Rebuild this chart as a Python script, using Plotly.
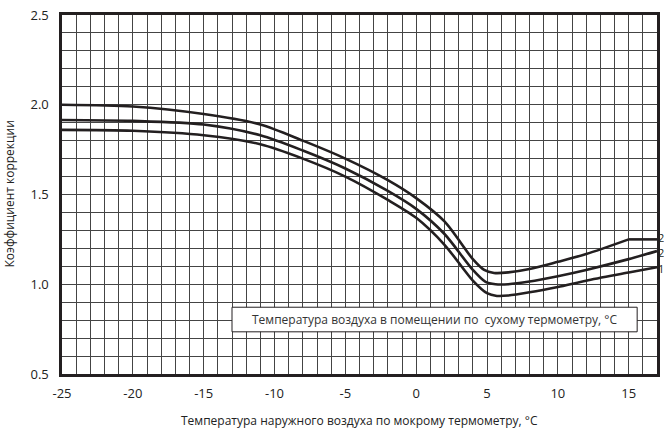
import plotly.graph_objects as go

# Data
x_top = [-25, -20, -15, -11, -8, -5, -2, 0, 2, 4, 4.8, 5.5, 6.5, 8, 10, 12, 15, 17]
y_top = [2.0, 1.99, 1.948, 1.89, 1.80, 1.70, 1.58, 1.48, 1.35, 1.14, 1.08, 1.063, 1.066, 1.085, 1.125, 1.168, 1.25, 1.25]

x_mid = [-25, -20, -15, -11, -8, -5, -2, 0, 2, 4, 4.9, 5.6, 6.5, 8, 10, 12, 15, 17]
y_mid = [1.915, 1.91, 1.89, 1.83, 1.745, 1.645, 1.52, 1.42, 1.28, 1.08, 1.013, 1.0, 1.0, 1.015, 1.045, 1.08, 1.14, 1.185]

x_bot = [-25, -20, -15, -11, -8, -5, -2, 0, 2, 4, 5.0, 5.7, 6.5, 8, 10, 12, 15, 17]
y_bot = [1.86, 1.855, 1.83, 1.78, 1.70, 1.60, 1.47, 1.37, 1.22, 1.02, 0.95, 0.935, 0.937, 0.955, 0.985, 1.02, 1.065, 1.095]

curve_labels = ["2", "2", "1"]
x_ticks = [-25, -20, -15, -10, -5, 0, 5, 10, 15]
y_ticks = [0.5, 1.0, 1.5, 2.0, 2.5]

box_text = "Температура воздуха в помещении по  сухому термометру, °C"
x_title = "Температура наружного воздуха по мокрому термометру, °C"
y_title = "Коэффициент коррекции"

FONT = "Open Sans, Noto Sans, sans-serif"
LINE = "#231f20"
LW = 2.6

fig = go.Figure()


def add_curve(xs, ys):
    # the top curve has a straight flat tail: draw the smooth part as a spline
    # and the straight part as straight segments so the spline does not overshoot
    split = len(xs)
    for i in range(len(xs) - 1, 0, -1):
        if ys[i] == ys[i - 1]:
            split = i
        else:
            break
    fig.add_trace(go.Scatter(x=xs[:split], y=ys[:split], mode="lines",
                             line=dict(color=LINE, width=LW, shape="spline", smoothing=0.8),
                             showlegend=False, hoverinfo="skip"))
    if split < len(xs):
        fig.add_trace(go.Scatter(x=xs[split - 1:], y=ys[split - 1:], mode="lines",
                                 line=dict(color=LINE, width=LW),
                                 showlegend=False, hoverinfo="skip"))


for xs, ys in [(x_top, y_top), (x_mid, y_mid), (x_bot, y_bot)]:
    add_curve(xs, ys)

# right-edge curve labels
for lab, ys, dy in zip(curve_labels, [y_top, y_mid, y_bot], [2, -1, -1]):
    fig.add_annotation(x=1, xref="paper", y=ys[-1], yref="y", text=lab,
                       showarrow=False, xanchor="left", xshift=0, yshift=dy, borderpad=0,
                       font=dict(family=FONT, size=11, color=LINE))

# boxed caption
fig.add_shape(type="rect", xref="x", yref="y", x0=-13, x1=15.6, y0=0.735, y1=0.872,
              fillcolor="white", line=dict(color=LINE, width=1), layer="above")
fig.add_annotation(x=1.3, y=0.803, xref="x", yref="y", text=box_text, showarrow=False,
                   font=dict(family=FONT, size=12, color="#333"))

# axis titles
fig.add_annotation(x=0.5, xref="paper", y=0, yref="paper", yanchor="middle", yshift=-46,
                   text=x_title, showarrow=False, font=dict(family=FONT, size=12, color="#222"))
fig.add_annotation(x=0, xref="paper", xanchor="center", xshift=-53, y=0.5, yref="paper",
                   text=y_title, textangle=-90, showarrow=False,
                   font=dict(family=FONT, size=12, color="#222"))

grid = "#444444"
fig.update_xaxes(range=[-25, 17], tickvals=x_ticks, ticktext=[str(v) for v in x_ticks],
                 showgrid=True, gridcolor=grid, gridwidth=1,
                 minor=dict(dtick=1, tick0=-25, showgrid=True, gridcolor=grid, gridwidth=1),
                 showline=True, linecolor=LINE, linewidth=LW, mirror=True,
                 ticks="", ticklabelstandoff=6, zeroline=False, automargin=False,
                 tickfont=dict(family=FONT, size=13, color="#222"))
fig.update_yaxes(range=[0.5, 2.5], tickvals=y_ticks, tickformat=".1f",
                 showgrid=True, gridcolor=grid, gridwidth=1,
                 minor=dict(dtick=0.1, tick0=0.5, showgrid=True, gridcolor=grid, gridwidth=1),
                 showline=True, linecolor=LINE, linewidth=LW, mirror=True,
                 ticks="", ticklabelstandoff=8, zeroline=False, automargin=False,
                 tickfont=dict(family=FONT, size=13, color="#222"))

fig.update_layout(width=664, height=430, margin=dict(l=62, r=7, t=15, b=56, autoexpand=False),
                  plot_bgcolor="white", paper_bgcolor="white")

fig.write_html("out.html", config={"displayModeBar": False, "staticPlot": True},
               post_script="document.body.style.margin='0';")
